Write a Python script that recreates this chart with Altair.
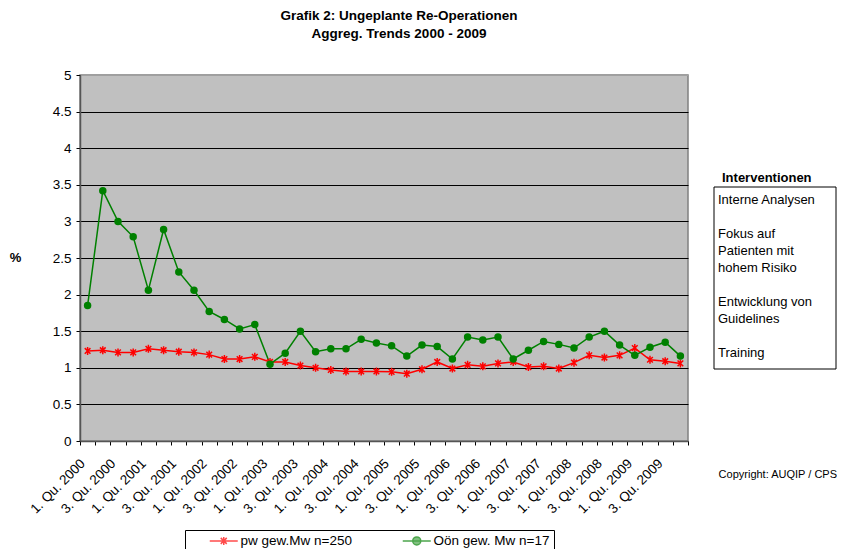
import altair as alt
import pandas as pd

years = list(range(2000, 2010))
quarter_nums = [1, 2, 3, 4]
quarters = [f"{q}. Qu. {y}" for y in years for q in quarter_nums]

series_pw = "pw gew.Mw n=250"
series_oon = "Oön gew. Mw n=17"

pw_values = [1.23, 1.24, 1.21, 1.21, 1.26, 1.24, 1.22, 1.21, 1.18, 1.12,
             1.12, 1.15, 1.08, 1.08, 1.03, 1.00, 0.97, 0.95, 0.95, 0.95,
             0.945, 0.92, 0.98, 1.08, 0.99, 1.04, 1.02, 1.06, 1.08, 1.01,
             1.02, 0.99, 1.07, 1.17, 1.14, 1.17, 1.27, 1.11, 1.09, 1.06]
oon_values = [1.85, 3.42, 3.00, 2.79, 2.06, 2.89, 2.31, 2.06, 1.77, 1.66,
              1.53, 1.59, 1.05, 1.20, 1.50, 1.22, 1.26, 1.26, 1.39, 1.34,
              1.30, 1.16, 1.31, 1.29, 1.12, 1.42, 1.38, 1.42, 1.12, 1.24,
              1.36, 1.32, 1.27, 1.42, 1.50, 1.31, 1.17, 1.28, 1.35, 1.16]

y_ticks = [0, 0.5, 1, 1.5, 2, 2.5, 3, 3.5, 4, 4.5, 5]
title_lines = ["Grafik 2: Ungeplante Re-Operationen", "Aggreg. Trends 2000 - 2009"]
interventions_title = "Interventionen"
intervention_groups = [
    ["Interne Analysen"],
    ["Fokus auf", "Patienten mit", "hohem Risiko"],
    ["Entwicklung von", "Guidelines"],
    ["Training"],
]
copyright_text = "Copyright: AUQIP / CPS"

series_names = [series_pw, series_oon]
series_colors = ["#FF0000", "#008000"]

df = pd.DataFrame({
    "quarter": quarters + quarters,
    "value": pw_values + oon_values,
    "series": [series_pw] * len(quarters) + [series_oon] * len(quarters),
})

FONT = "Liberation Sans"
star_path = "M0,-1L0,1M-0.71,-0.71L0.71,0.71M-0.71,0.71L0.71,-0.71"
legend_star = "M-2.8,0L2.8,0M0,-0.8L0,0.8M-0.6,-0.6L0.6,0.6M-0.6,0.6L0.6,-0.6"
legend_circle = "M-2.8,0L2.8,0M0.8,0A0.8,0.8,0,1,1,-0.8,0A0.8,0.8,0,1,1,0.8,0Z"

x_enc = alt.X(
    "quarter:N", sort=quarters, title=None,
    scale=alt.Scale(paddingInner=0, paddingOuter=0),
    axis=alt.Axis(
        labelExpr="(substring(datum.value,0,1)=='1' || substring(datum.value,0,1)=='3') ? datum.value : ''",
        labelAngle=-45, labelAlign="right", labelBaseline="middle",
        labelFontSize=13.5, labelFont=FONT, labelColor="black", labelPadding=16,
        labelOffset=-5,
        tickBand="extent", tickSize=4, tickColor="black",
        domainColor="#555555", domainWidth=1.5, grid=False, labelOverlap=False,
    ),
)
y_enc = alt.Y(
    "value:Q", title="%",
    scale=alt.Scale(domain=[0, 5], nice=False),
    axis=alt.Axis(
        values=y_ticks, format="~g", labelFontSize=13.5, labelFont=FONT, labelColor="black",
        labelPadding=5, tickSize=4, tickColor="black",
        domainColor="#555555", domainWidth=1.5,
        gridColor={"condition": {"test": "datum.value >= 5", "value": "#A0A0A0"}, "value": "black"},
        gridWidth=1, gridOpacity=1,
        titleAngle=0, titleX=-65, titleY=182, titleAlign="center", titleBaseline="middle",
        titleFontSize=13, titleFont=FONT, titleFontWeight="bold", titleColor="black",
    ),
)
color_scale = alt.Scale(domain=series_names, range=series_colors)

lines = alt.Chart(df).mark_line(strokeWidth=1.5).encode(
    x=x_enc, y=y_enc,
    color=alt.Color("series:N", scale=color_scale, legend=None),
)
stars = alt.Chart(df).transform_filter(alt.datum.series == series_pw).mark_point(
    shape=star_path, size=64, filled=False, strokeWidth=1.5, color="#FF0000", opacity=1
).encode(x=x_enc, y=y_enc)
circles = alt.Chart(df).transform_filter(alt.datum.series == series_oon).mark_circle(
    size=56, color="#008000", opacity=1
).encode(x=x_enc, y=y_enc)

legend_def = alt.Legend(
    title=None, orient="none", legendX=105, legendY=455, direction="horizontal",
    symbolSize=100, symbolStrokeWidth=1.5, symbolOffset=28, labelOffset=10,
    labelFontSize=13.5, labelFont=FONT, labelColor="black", columnPadding=30,
    padding=4, strokeColor="black", fillColor="white",
)
legend_layer = alt.Chart(df).transform_filter("datum.value < 0").mark_point(
    filled=True, strokeWidth=1.5
).encode(
    x=x_enc, y=y_enc,
    fill=alt.Fill("series:N", scale=alt.Scale(domain=series_names, range=series_colors), legend=legend_def),
    stroke=alt.Stroke("series:N", scale=alt.Scale(domain=series_names, range=series_colors), legend=legend_def),
    shape=alt.Shape("series:N", scale=alt.Scale(domain=series_names, range=[legend_star, legend_circle]), legend=legend_def),
)

one_row = alt.Data(values=[{"k": 1}])
box = alt.Chart(one_row).mark_rect(fill="white", stroke="black", strokeWidth=1).encode(
    x=alt.value(634), x2=alt.value(756), y=alt.value(112), y2=alt.value(294)
)
interv_title = alt.Chart(one_row).mark_text(
    align="left", baseline="middle", fontSize=13, font=FONT, fontWeight="bold", color="black"
).encode(x=alt.value(642), y=alt.value(103), text=alt.value(interventions_title))

LINE_H = 17
interv_layers = []
line_idx = 0
for group in intervention_groups:
    interv_layers.append(
        alt.Chart(one_row).mark_text(
            align="left", baseline="top", fontSize=13, font=FONT, color="black", lineHeight=LINE_H
        ).encode(x=alt.value(638), y=alt.value(119 + LINE_H * line_idx), text=alt.value(group))
    )
    line_idx += len(group) + 1

copyright_mark = alt.Chart(one_row).mark_text(
    align="right", baseline="middle", fontSize=11, font=FONT, color="black"
).encode(x=alt.value(757), y=alt.value(400), text=alt.value(copyright_text))

chart = alt.layer(
    lines, stars, circles, legend_layer, box, interv_title, *interv_layers, copyright_mark
).resolve_scale(color="independent").properties(
    width=608, height=366,
    autosize=alt.AutoSizeParams(type="none"),
    padding={"left": 72, "top": 67, "right": 149, "bottom": 108},
    title=alt.TitleParams(
        text=title_lines, anchor="middle", dx=15, offset=28, fontSize=13.5,
        font=FONT, fontWeight="bold", color="black", lineHeight=18,
    ),
    background="white",
).configure_view(fill="#C0C0C0", stroke="#808080", strokeWidth=1.5)

chart.save("out.html", embed_options={"renderer": "svg", "actions": False})
